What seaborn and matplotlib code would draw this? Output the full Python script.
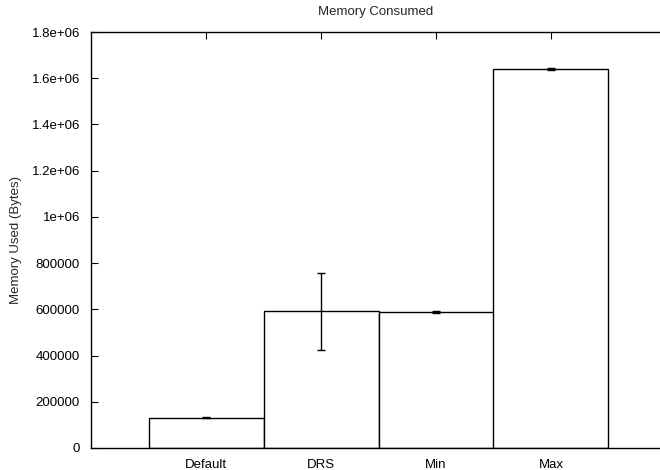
import pandas as pd
import matplotlib
matplotlib.use("Agg")
import matplotlib.pyplot as plt
import seaborn as sns
from matplotlib.ticker import FixedLocator, FixedFormatter

# datos
configs = ["Default", "DRS", "Min", "Max"]
memoria = [131000, 592000, 589000, 1640000]
error = [3000, 167000, 3000, 4000]
yticks = [0, 200000, 400000, 600000, 800000, 1000000, 1200000, 1400000, 1600000, 1800000]
yticklabels = ["0", "200000", "400000", "600000", "800000", "1e+06",
               "1.2e+06", "1.4e+06", "1.6e+06", "1.8e+06"]

sns.set_theme(style="ticks")
plt.rcParams["font.family"] = ["Liberation Sans", "DejaVu Sans"]

df = pd.DataFrame({"config": configs, "memoria": memoria, "error": error})

fig = plt.figure(figsize=(6.6, 4.7), dpi=100)
ax = fig.add_axes([91 / 660, 1 - 448 / 470, 1 - 91 / 660, (448 - 32) / 470])

sns.barplot(data=df, x="config", y="memoria", order=configs, width=1.0,
            color="white", edgecolor="black", linewidth=1.0,
            errorbar=None, ax=ax, saturation=1)
ax.errorbar(range(len(configs)), df["memoria"], yerr=df["error"], fmt="none",
            ecolor="black", elinewidth=1.0, capsize=3, capthick=1.0)

ax.set_xlim(-1, (660 - 91) / 115 - 1)
ax.set_ylim(0, 1800000)
ax.yaxis.set_major_locator(FixedLocator(yticks))
ax.yaxis.set_major_formatter(FixedFormatter(yticklabels))

for s in ["left", "bottom", "top"]:
    ax.spines[s].set_linewidth(1.0)
    ax.spines[s].set_color("black")
ax.spines["right"].set_visible(False)

ax.tick_params(axis="both", direction="in", length=5, width=0.8,
               labelsize=9.5, colors="black")
ax.tick_params(axis="y", right=False, pad=8)
ax.tick_params(axis="x", top=True, pad=8)

ax.set_xlabel("")
ax.set_ylabel("Memory Used (Bytes)", fontsize=9.5, labelpad=7)
ax.set_title("Memory Consumed", fontsize=9.5, pad=12)

plt.savefig("out.png", dpi=100)
plt.close(fig)
